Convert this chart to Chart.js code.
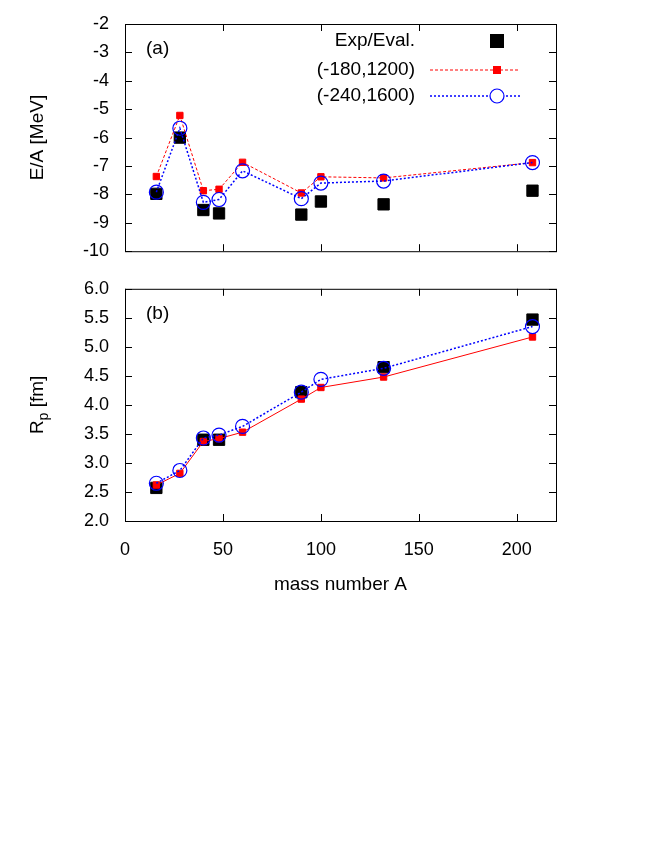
<!DOCTYPE html>
<html>
<head>
<meta charset="utf-8">
<script src="https://cdn.jsdelivr.net/npm/chart.js@4/dist/chart.umd.min.js"></script>
<style>
  body { margin: 0; background: #fff; }
  #wrap { position: relative; width: 664px; height: 860px; }
  .box { position: absolute; left: 0; width: 664px; }
</style>
</head>
<body>
<div id="wrap">
  <div class="box" style="top:0;height:270px"><canvas id="topChart"></canvas></div>
  <div class="box" style="top:270px;height:330px"><canvas id="botChart"></canvas></div>
</div>
<script>
  // ── data ──
  const massA = [16, 28, 40, 48, 60, 90, 100, 132, 208];
  const expA = [16, 28, 40, 48, 90, 100, 132, 208];
  const expEA = [-7.98, -6.0, -8.55, -8.67, -8.71, -8.25, -8.35, -7.87];
  const redEA = [-7.37, -5.22, -7.87, -7.82, -6.87, -7.95, -7.38, -7.42, -6.88];
  const blueEA = [-7.92, -5.67, -8.28, -8.18, -7.17, -8.15, -7.60, -7.53, -6.88];

  const expRA = [16, 40, 48, 90, 132, 208];
  const expRp = [2.57, 3.40, 3.40, 4.22, 4.65, 5.47];
  const redRp = [2.62, 2.82, 3.37, 3.42, 3.53, 4.10, 4.30, 4.48, 5.17];
  const blueRp = [2.65, 2.87, 3.43, 3.48, 3.63, 4.22, 4.44, 4.63, 5.35];

  const xTicks = [0, 50, 100, 150, 200];
  const eaTicks = [-10, -9, -8, -7, -6, -5, -4, -3, -2];
  const rpTicks = [2, 2.5, 3, 3.5, 4, 4.5, 5, 5.5, 6];

  const FONT = "'Liberation Sans', Arial, sans-serif";
  const RED = '#ff0000', BLUE = '#0000ff';

  const pts = (xs, ys) => xs.map((x, i) => ({ x, y: ys[i] }));

  // inward ticks on all four sides, gnuplot style
  const innerTicks = {
    id: 'innerTicks',
    afterDatasetsDraw(chart) {
      const { ctx, chartArea: a, scales: { x, y } } = chart;
      ctx.save();
      ctx.strokeStyle = '#000';
      ctx.lineWidth = 1;
      ctx.beginPath();
      x.ticks.forEach(t => {
        const px = Math.round(x.getPixelForValue(t.value)) + 0.5;
        ctx.moveTo(px, a.bottom); ctx.lineTo(px, a.bottom - 7);
        ctx.moveTo(px, a.top); ctx.lineTo(px, a.top + 7);
      });
      y.ticks.forEach(t => {
        const py = Math.round(y.getPixelForValue(t.value)) + 0.5;
        ctx.moveTo(a.left, py); ctx.lineTo(a.left + 7, py);
        ctx.moveTo(a.right, py); ctx.lineTo(a.right - 7, py);
      });
      ctx.stroke();
      ctx.strokeRect(a.left + 0.5, a.top + 0.5, a.right - a.left, a.bottom - a.top);
      ctx.restore();
    }
  };

  function makeOptions(yTicks, showX, pad) {
    return {
      responsive: true,
      maintainAspectRatio: false,
      animation: false,
      layout: { padding: pad },
      plugins: { legend: { display: false }, tooltip: { enabled: false } },
      scales: {
        x: {
          type: 'linear', min: 0, max: 220,
          afterBuildTicks: s => { s.ticks = xTicks.map(v => ({ value: v })); },
          afterFit: s => { s.height = showX ? 79 : 0; },
          grid: { display: false },
          border: { display: false },
          ticks: { display: showX, color: '#000', font: { size: 18, family: FONT }, padding: 10 },
          title: { display: showX, text: 'mass number A', color: '#000', font: { size: 19, family: FONT }, padding: { top: 6 } }
        },
        y: {
          type: 'linear', min: yTicks[0], max: yTicks[yTicks.length - 1],
          afterBuildTicks: s => { s.ticks = yTicks.map(v => ({ value: v })); },
          afterFit: s => { s.width = 60; },
          grid: { display: false },
          border: { display: false },
          ticks: { color: '#000', font: { size: 18, family: FONT }, padding: 8 }
        }
      }
    };
  }

  function drawLegend(chart) {
    const { ctx, chartArea: a } = chart;
    ctx.save();
    ctx.font = `19px ${FONT}`;
    ctx.textAlign = 'right';
    ctx.textBaseline = 'middle';
    ctx.fillStyle = '#000';
    const tx = a.left + 290, lx0 = a.left + 305, lx1 = a.left + 395, mx = a.left + 372;
    ctx.fillText('Exp/Eval.', tx, a.top + 17);
    ctx.fillRect(mx - 7, a.top + 10, 14, 14);
    ctx.fillText('(-180,1200)', tx, a.top + 46);
    ctx.strokeStyle = RED; ctx.lineWidth = 1; ctx.setLineDash([3, 2]);
    ctx.beginPath(); ctx.moveTo(lx0, a.top + 46); ctx.lineTo(lx1, a.top + 46); ctx.stroke();
    ctx.fillStyle = RED; ctx.fillRect(mx - 4, a.top + 42, 8, 8);
    ctx.fillStyle = '#000';
    ctx.fillText('(-240,1600)', tx, a.top + 72);
    ctx.strokeStyle = BLUE; ctx.lineWidth = 1.5; ctx.setLineDash([2, 2]);
    ctx.beginPath(); ctx.moveTo(lx0, a.top + 72); ctx.lineTo(lx1, a.top + 72); ctx.stroke();
    ctx.setLineDash([]); ctx.lineWidth = 1.2;
    ctx.fillStyle = '#fff';
    ctx.beginPath(); ctx.arc(mx, a.top + 72, 7, 0, Math.PI * 2); ctx.fill(); ctx.stroke();
    ctx.restore();
  }

  function panelLabels(label, titleFn) {
    return {
      id: 'panelLabels' + label,
      afterDraw(chart) {
        const { ctx, chartArea: a } = chart;
        ctx.save();
        ctx.fillStyle = '#000';
        ctx.font = `19px ${FONT}`;
        ctx.textBaseline = 'middle';
        ctx.fillText(label, a.left + 21, a.top + 25);
        ctx.translate(38, (a.top + a.bottom) / 2);
        ctx.rotate(-Math.PI / 2);
        titleFn(ctx);
        ctx.restore();
      }
    };
  }

  function datasets(expX, expY, redY, blueY, redDash) {
    return [
      { data: pts(expX, expY), showLine: false, pointStyle: 'rect', pointRadius: 8,
        backgroundColor: '#000', borderColor: '#000', order: 3 },
      { data: pts(massA, redY), showLine: true, borderColor: RED, borderWidth: 1, borderDash: redDash,
        pointStyle: 'rect', pointRadius: 4.5, backgroundColor: RED, pointBorderColor: RED, order: 2 },
      { data: pts(massA, blueY), showLine: true, borderColor: BLUE, borderWidth: 1.5, borderDash: [2, 2],
        pointStyle: 'circle', pointRadius: 7, pointBorderWidth: 1.2, backgroundColor: 'rgba(0,0,0,0)',
        pointBorderColor: BLUE, order: 1 }
    ];
  }

  document.addEventListener('DOMContentLoaded', function () {
    new Chart(document.getElementById('topChart'), {
      type: 'scatter',
      data: { datasets: datasets(expA, expEA, redEA, blueEA, [3, 2]) },
      options: makeOptions(eaTicks, false, { left: 65, right: 108, top: 24, bottom: 11 }),
      plugins: [innerTicks, panelLabels('(a)', ctx => {
        ctx.textAlign = 'center'; ctx.textBaseline = 'middle';
        ctx.fillText('E/A [MeV]', 0, 0);
      }), { id: 'legend2', afterDraw: drawLegend }]
    });

    new Chart(document.getElementById('botChart'), {
      type: 'scatter',
      data: { datasets: datasets(expRA, expRp, redRp, blueRp, []) },
      options: makeOptions(rpTicks, true, { left: 65, right: 108, top: 14, bottom: 0 }),
      plugins: [innerTicks, panelLabels('(b)', ctx => {
        ctx.textBaseline = 'middle'; ctx.textAlign = 'left';
        const w = ctx.measureText('R').width;
        ctx.font = `14px ${FONT}`;
        const ws = ctx.measureText('p').width;
        ctx.font = `19px ${FONT}`;
        const rest = ' [fm]';
        const wr = ctx.measureText(rest).width;
        let x = -(w + ws + wr) / 2;
        ctx.fillText('R', x, 0); x += w;
        ctx.font = `14px ${FONT}`; ctx.fillText('p', x, 6); x += ws;
        ctx.font = `19px ${FONT}`; ctx.fillText(rest, x, 0);
      })]
    });
  });
</script>
</body>
</html>
